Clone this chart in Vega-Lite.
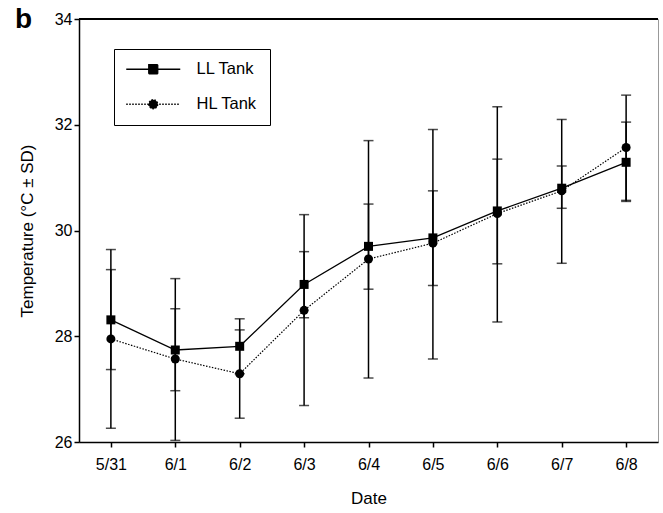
{
  "$schema": "https://vega.github.io/schema/vega-lite/v6.json",
  "width": 579,
  "height": 423,
  "autosize": {"type": "none"},
  "padding": {"left": 79, "top": 19, "right": 5, "bottom": 71},
  "title": {"text": "b", "anchor": "start", "frame": "group", "dx": -64, "offset": -9, "dy": 36, "baseline": "alphabetic", "fontSize": 28, "fontWeight": "bold", "font": "Liberation Sans", "color": "black"},
  "config": {
    "view": {"stroke": "#999999", "strokeWidth": 1},
    "font": "Liberation Sans",
    "axis": {"domainColor": "black", "tickColor": "black", "domainWidth": 1.5, "tickWidth": 1.5, "labelColor": "black", "titleColor": "black", "labelFont": "Liberation Sans", "titleFont": "Liberation Sans", "labelFontSize": 16, "titleFontSize": 17, "titleFontWeight": "normal", "grid": false, "tickSize": 5}
  },
  "data": {"values": [
    {"date": "5/31", "series": "HL Tank", "mean": 27.95, "lo": 26.26, "hi": 29.64},
    {"date": "6/1", "series": "HL Tank", "mean": 27.57, "lo": 26.03, "hi": 29.09},
    {"date": "6/2", "series": "HL Tank", "mean": 27.29, "lo": 26.45, "hi": 28.12},
    {"date": "6/3", "series": "HL Tank", "mean": 28.49, "lo": 26.69, "hi": 30.30},
    {"date": "6/4", "series": "HL Tank", "mean": 29.46, "lo": 27.21, "hi": 31.70},
    {"date": "6/5", "series": "HL Tank", "mean": 29.76, "lo": 27.57, "hi": 31.91},
    {"date": "6/6", "series": "HL Tank", "mean": 30.32, "lo": 28.27, "hi": 32.34},
    {"date": "6/7", "series": "HL Tank", "mean": 30.75, "lo": 29.38, "hi": 32.10},
    {"date": "6/8", "series": "HL Tank", "mean": 31.57, "lo": 30.57, "hi": 32.56},
    {"date": "5/31", "series": "LL Tank", "mean": 28.31, "lo": 27.37, "hi": 29.26},
    {"date": "6/1", "series": "LL Tank", "mean": 27.74, "lo": 26.97, "hi": 28.52},
    {"date": "6/2", "series": "LL Tank", "mean": 27.81, "lo": 27.29, "hi": 28.33},
    {"date": "6/3", "series": "LL Tank", "mean": 28.98, "lo": 28.35, "hi": 29.60},
    {"date": "6/4", "series": "LL Tank", "mean": 29.70, "lo": 28.89, "hi": 30.50},
    {"date": "6/5", "series": "LL Tank", "mean": 29.86, "lo": 28.96, "hi": 30.75},
    {"date": "6/6", "series": "LL Tank", "mean": 30.37, "lo": 29.37, "hi": 31.35},
    {"date": "6/7", "series": "LL Tank", "mean": 30.80, "lo": 30.42, "hi": 31.22},
    {"date": "6/8", "series": "LL Tank", "mean": 31.29, "lo": 30.55, "hi": 32.05}
  ]},
  "layer": [
    {
      "mark": {"type": "rule", "color": "black", "strokeWidth": 1.5},
      "encoding": {
        "x": {"field": "date", "type": "ordinal", "sort": null, "scale": {"type": "point", "padding": 0.495},
          "axis": {"title": "Date", "labelAngle": 0, "labelPadding": 9, "titlePadding": 18}},
        "y": {"field": "lo", "type": "quantitative", "scale": {"domain": [26, 34], "nice": false, "zero": false},
          "axis": {"title": "Temperature (°C ± SD)", "values": [26, 28, 30, 32, 34], "labelPadding": 2, "titlePadding": 18}},
        "y2": {"field": "hi"}
      }
    },
    {
      "mark": {"type": "tick", "color": "black", "size": 10, "thickness": 1.5, "orient": "horizontal"},
      "encoding": {"x": {"field": "date", "type": "ordinal", "sort": null}, "y": {"field": "lo", "type": "quantitative"}}
    },
    {
      "mark": {"type": "tick", "color": "black", "size": 10, "thickness": 1.5, "orient": "horizontal"},
      "encoding": {"x": {"field": "date", "type": "ordinal", "sort": null}, "y": {"field": "hi", "type": "quantitative"}}
    },
    {
      "mark": {"type": "rule", "color": "black", "strokeWidth": 1.5},
      "encoding": {"y": {"datum": 34, "type": "quantitative"}}
    },
    {
      "transform": [{"filter": "datum.series === 'HL Tank'"}],
      "mark": {"type": "line", "color": "black", "strokeWidth": 1.2, "strokeDash": [1.5, 1.5]},
      "encoding": {"x": {"field": "date", "type": "ordinal", "sort": null}, "y": {"field": "mean", "type": "quantitative"}}
    },
    {
      "transform": [{"filter": "datum.series === 'LL Tank'"}],
      "mark": {"type": "line", "color": "black", "strokeWidth": 1.3},
      "encoding": {"x": {"field": "date", "type": "ordinal", "sort": null}, "y": {"field": "mean", "type": "quantitative"}}
    },
    {
      "transform": [{"filter": "datum.series === 'HL Tank'"}],
      "mark": {"type": "point", "shape": "circle", "filled": true, "color": "black", "opacity": 1, "size": 81},
      "encoding": {"x": {"field": "date", "type": "ordinal", "sort": null}, "y": {"field": "mean", "type": "quantitative"}}
    },
    {
      "transform": [{"filter": "datum.series === 'LL Tank'"}],
      "mark": {"type": "point", "shape": "square", "filled": true, "color": "black", "opacity": 1, "size": 81},
      "encoding": {"x": {"field": "date", "type": "ordinal", "sort": null}, "y": {"field": "mean", "type": "quantitative"}}
    },
    {
      "transform": [{"filter": "false"}],
      "mark": {"type": "point", "filled": false, "stroke": "black", "strokeWidth": 1.3, "opacity": 1, "size": 81},
      "encoding": {
        "x": {"field": "date", "type": "ordinal", "sort": null},
        "y": {"field": "mean", "type": "quantitative"},
        "shape": {"field": "series", "type": "nominal", "scale": {"domain": ["LL Tank", "HL Tank"], "range": ["m-6,0h12m-7,-1h2v2h-2z", "m-6,0h12m-7,0a1,1 0 1,0 2,0a1,1 0 1,0 -2,0z"]},
          "legend": {"title": null, "orient": "none", "legendX": 35, "legendY": 30, "strokeColor": "black", "padding": 12, "symbolOffset": 19, "labelOffset": 35, "rowPadding": 18, "labelFontSize": 16.5, "labelFont": "Liberation Sans", "labelColor": "black", "symbolSize": 81, "symbolStrokeWidth": 1.3}},
        "fill": {"field": "series", "type": "nominal", "scale": {"domain": ["LL Tank", "HL Tank"], "range": ["black", "black"]}},
        "strokeDash": {"field": "series", "type": "nominal", "scale": {"domain": ["LL Tank", "HL Tank"], "range": [[1, 0], [1.5, 1.5]]}}
      }
    }
  ]
}
